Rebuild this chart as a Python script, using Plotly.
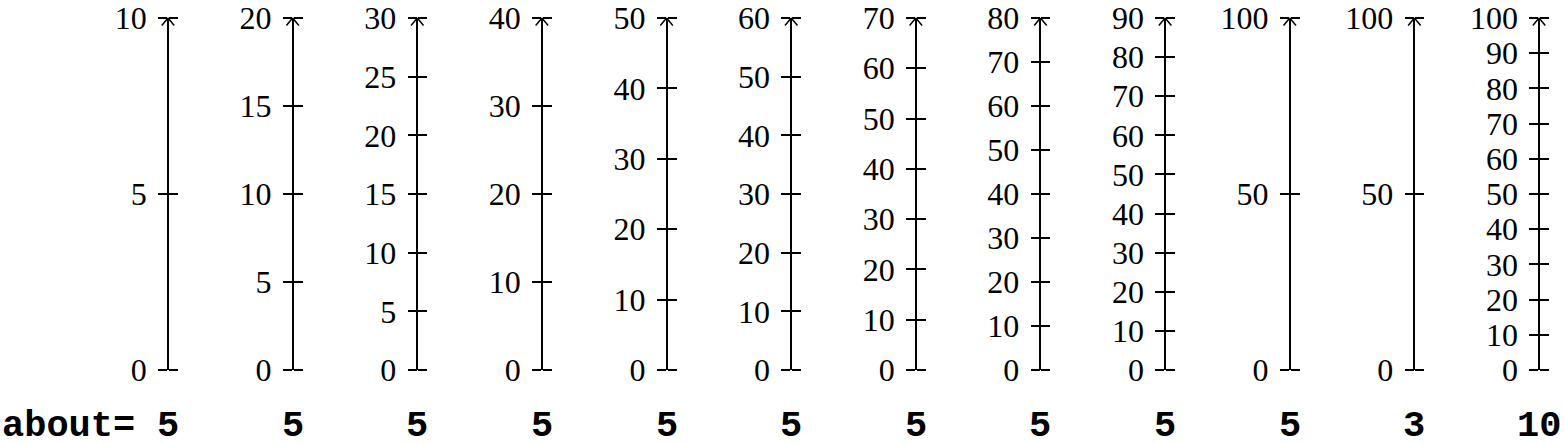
import plotly.graph_objects as go

# ---- data ----
axis_max = [10, 20, 30, 40, 50, 60, 70, 80, 90, 100, 100, 100]
axis_step = [5, 5, 5, 10, 10, 10, 10, 10, 10, 50, 50, 10]
about_values = [5, 5, 5, 5, 5, 5, 5, 5, 5, 5, 3, 10]
about_label = "about="

# ---- layout constants ----
W, H = 1564, 444
M_T, M_B = 16, 74
PLOT_H = H - M_T - M_B
first_px, gap_px = 168, 124.64
LINE_W = 1.5
TICK_LEN = 9
LABEL_FONT = dict(family="Liberation Serif", size=32, color="black")
MONO_FONT = dict(family="Liberation Mono", size=37, color="black", weight="bold")
ABOUT_CENTER_PX = 426          # vertical centre of bottom text row
about_y = -(ABOUT_CENTER_PX - (H - M_B)) / PLOT_H

fig = go.Figure()
layout_axes = {}
annotations = []

for i, (mx, st) in enumerate(zip(axis_max, axis_step)):
    pos = (first_px + gap_px * i) / W
    ticks = list(range(0, mx + 1, st))
    a_lab = 2 * i + 1
    a_tik = 2 * i + 2
    name_lab = "yaxis" if a_lab == 1 else f"yaxis{a_lab}"
    name_tik = f"yaxis{a_tik}"
    ref_lab = "y" if a_lab == 1 else f"y{a_lab}"
    ref_tik = f"y{a_tik}"
    common = dict(range=[0, mx], domain=[0, 1], anchor="free", position=pos,
                  tickmode="array", tickvals=ticks, ticks="outside",
                  showgrid=False, zeroline=False, fixedrange=True,
                  tickwidth=LINE_W, tickcolor="black", ticklen=TICK_LEN)
    # left half of each tick + labels + the axis line
    lab = dict(common, side="left", showline=True, linewidth=LINE_W,
               linecolor="black", showticklabels=True,
               ticktext=[str(t) for t in ticks], tickfont=LABEL_FONT,
               ticklabelstandoff=5, ticklabeloverflow="allow")
    if a_lab != 1:
        lab["overlaying"] = "y"
    # right half of each tick
    tik = dict(common, side="right", showline=False, showticklabels=False,
               overlaying="y")
    layout_axes[name_lab] = lab
    layout_axes[name_tik] = tik

    fig.add_trace(go.Scatter(x=[0.5, 0.5], y=[0, mx], yaxis=ref_lab, mode="none",
                             hoverinfo="skip", showlegend=False))
    fig.add_trace(go.Scatter(x=[0.5, 0.5], y=[0, mx], yaxis=ref_tik, mode="none",
                             hoverinfo="skip", showlegend=False))

    # open arrow head at the top of the axis (two short arms)
    for dx in (-7.5, 7.5):
        annotations.append(dict(x=pos, xref="paper", y=mx, yref=ref_lab,
                                text="", showarrow=True, arrowhead=0,
                                ax=dx, ay=9, axref="pixel", ayref="pixel",
                                arrowwidth=LINE_W, arrowcolor="black",
                                standoff=0, startstandoff=0))

    # "about" value under each axis
    annotations.append(dict(x=pos, xref="paper", y=about_y, yref="paper",
                            text=str(about_values[i]), showarrow=False,
                            xanchor="center", yanchor="middle", font=MONO_FONT))

annotations.append(dict(x=0, xref="paper", y=about_y, yref="paper",
                        text=about_label, showarrow=False,
                        xanchor="left", yanchor="middle", font=MONO_FONT))

fig.update_layout(
    width=W, height=H,
    margin=dict(l=0, r=0, t=M_T, b=M_B),
    paper_bgcolor="white", plot_bgcolor="white",
    showlegend=False,
    xaxis=dict(visible=False, range=[0, 1], domain=[0, 1], fixedrange=True),
    annotations=annotations,
    **layout_axes,
)

fig.write_html("out.html", config={"displayModeBar": False},
               post_script="document.body.style.margin='0';")
